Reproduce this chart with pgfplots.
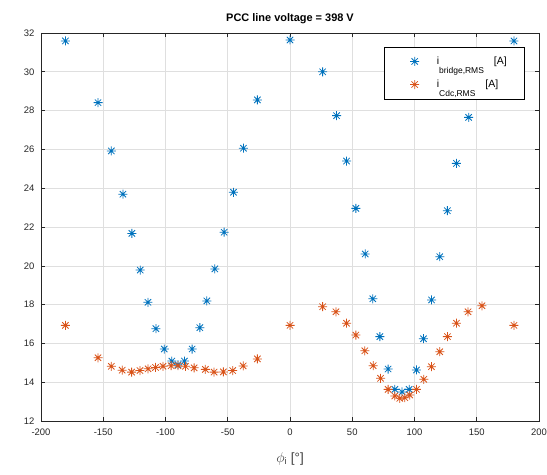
\documentclass[border=0pt]{standalone}
\usepackage{fontspec}
\setmainfont{Liberation Sans}
\usepackage{pgfplots}
\pgfplotsset{compat=1.18}
\definecolor{mblue}{rgb}{0,0.447,0.741}
\definecolor{morange}{rgb}{0.85,0.325,0.098}
\pgfdeclareplotmark{mstar}{%
  \pgfpathmoveto{\pgfqpoint{-\pgfplotmarksize}{0pt}}\pgfpathlineto{\pgfqpoint{\pgfplotmarksize}{0pt}}%
  \pgfpathmoveto{\pgfqpoint{0pt}{-\pgfplotmarksize}}\pgfpathlineto{\pgfqpoint{0pt}{\pgfplotmarksize}}%
  \pgfpathmoveto{\pgfqpoint{-0.707\pgfplotmarksize}{-0.707\pgfplotmarksize}}\pgfpathlineto{\pgfqpoint{0.707\pgfplotmarksize}{0.707\pgfplotmarksize}}%
  \pgfpathmoveto{\pgfqpoint{-0.707\pgfplotmarksize}{0.707\pgfplotmarksize}}\pgfpathlineto{\pgfqpoint{0.707\pgfplotmarksize}{-0.707\pgfplotmarksize}}%
  \pgfusepathqstroke}
\begin{document}
\begin{tikzpicture}
\path[use as bounding box] (-41bp,-54bp) rectangle (506bp,421bp);
\begin{axis}[
  at={(0,0)}, anchor=south west,
  scale only axis, width=498bp, height=388bp,
  xmin=-200, xmax=200, ymin=12, ymax=32,
  xtick={-200,-150,...,200}, ytick={12,14,...,32},
  grid=major, major grid style={gray!25, line width=0.6pt},
  tick align=inside, tick pos=both, major tick length=4bp,
  axis line style={line width=0.7pt, black!85},
  every tick/.style={black!85, line width=0.6pt},
  /pgf/number format/assume math mode=true,
  ticklabel style={font=\fontsize{9.5}{11}\selectfont, text=black!85},
  xticklabel style={yshift=-4bp},
  yticklabel style={xshift=-3bp},
  title={\bfseries PCC line voltage = 398 V},
  title style={font=\fontsize{11}{13}\selectfont, yshift=0bp},
  xlabel={$\phi_{\mathrm{i}}$ [°]},
  xlabel style={font=\fontsize{13.5}{15}\selectfont, yshift=-10bp, text=black!75},
  legend style={at={(0.972,0.965)}, anchor=north east, draw=black, line width=0.7pt,
    font=\fontsize{10.5}{12}\selectfont, row sep=10bp, inner xsep=16bp, inner ysep=8bp, fill=white},
  legend cell align=left,
  legend image code/.code={\path (0,0) (1.2cm,0); \draw[#1] plot coordinates {(0.5cm,0cm)};},
]
\addplot[only marks, mark=mstar, mark size=4.5bp, draw=mblue, line width=0.8pt] coordinates {
(-180.4,31.59) (-154.2,28.41) (-143.5,25.92) (-134.2,23.69) (-127,21.67) (-120.3,19.78)
(-114.1,18.12) (-107.7,16.76) (-101,15.71) (-94.9,15.09) (-90,14.9) (-84.8,15.09) (-78.6,15.71)
(-72.4,16.81) (-66.8,18.19) (-60.4,19.84) (-52.9,21.73) (-45.4,23.79) (-37.4,26.06) (-26.2,28.55)
(0,31.64) (26.2,30.0) (37.4,27.74) (45.4,25.4) (52.9,22.96) (60.4,20.61) (66.5,18.3)
(72.2,16.35) (78.8,14.68) (84.2,13.63) (90,13.5) (95.7,13.63) (101.6,14.63) (107.2,16.24)
(113.7,18.24) (120.3,20.47) (126.4,22.84) (133.7,25.28) (143.5,27.65) (154.2,29.9) (179.9,31.59)
};
\addlegendentry{i\raisebox{-1.6ex}{\fontsize{8.5}{9}\selectfont bridge,RMS}\hspace{10bp}[A]}
\addplot[only marks, mark=mstar, mark size=4.5bp, draw=morange, line width=0.8pt] coordinates {
(-180.4,16.93) (-154.2,15.26) (-143.5,14.82) (-134.8,14.62) (-127.2,14.52) (-120.5,14.6)
(-114,14.69) (-108,14.76) (-102,14.82) (-95.5,14.85) (-90,14.85) (-84,14.82) (-77,14.74)
(-68,14.66) (-61,14.52) (-53.5,14.53) (-46,14.6) (-37.6,14.84) (-26.2,15.2)
(0,16.93) (26.2,17.89) (36.9,17.63) (45.4,17.04) (52.9,16.43) (60.1,15.62) (66.8,14.85)
(72.7,14.2) (78.8,13.63) (84.2,13.29) (88.2,13.17) (92.2,13.2) (96.2,13.34) (101.6,13.63)
(107.5,14.15) (113.6,14.8) (120.3,15.57) (126.5,16.35) (133.7,17.04) (143,17.63) (154.2,17.94)
(179.9,16.93)
};
\addlegendentry{i\raisebox{-1.6ex}{\fontsize{8.5}{9}\selectfont Cdc,RMS}\hspace{10bp}[A]}
\end{axis}
\end{tikzpicture}
\end{document}
